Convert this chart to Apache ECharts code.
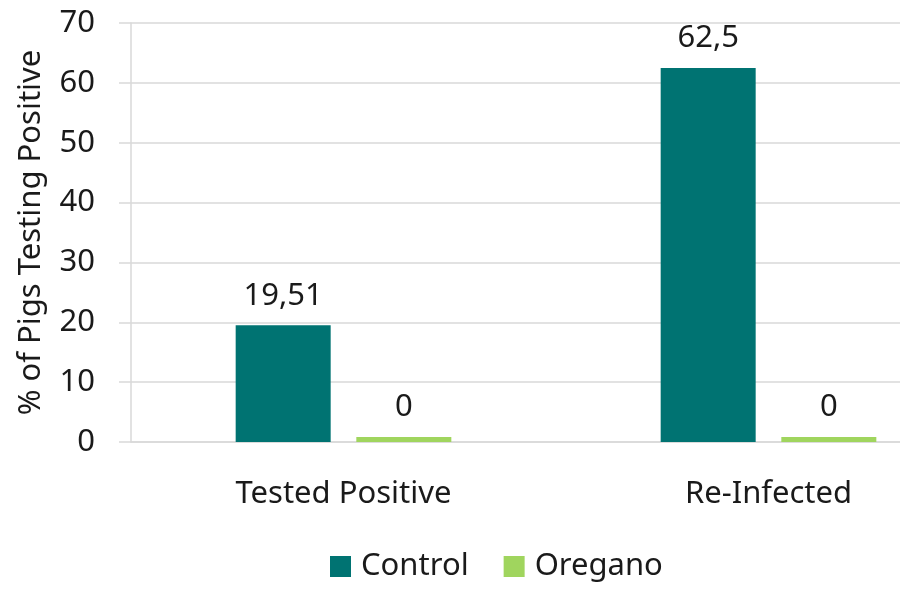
<!DOCTYPE html>
<html><head><meta charset="utf-8">
<script src="https://cdn.jsdelivr.net/npm/echarts@6/dist/echarts.min.js"></script>
<style>html,body{margin:0;padding:0;background:#fff}#c{width:900px;height:600px}</style>
</head><body><div id="c"></div>
<script>
const categories = ['Tested Positive', 'Re-Infected'];
const controlValues = [19.51, 62.5];
const oreganoValues = [0, 0];
const yTicks = [0, 10, 20, 30, 40, 50, 60, 70];

const FONT = '"Noto Sans", "Open Sans", sans-serif';
const FS = 31;
const chart = echarts.init(document.getElementById('c'));
const lbl = {
  show: true, position: 'top', distance: 14, fontSize: FS, color: '#1a1a1a', fontFamily: FONT,
  formatter: p => String(p.value).replace('.', ',')
};
chart.setOption({
  animation: false,
  textStyle: { fontFamily: FONT },
  grid: { left: 131, width: 850, top: 23, bottom: 158, containLabel: false, outerBoundsMode: 'none' },
  legend: {
    bottom: 13, left: 325, itemWidth: 21, itemHeight: 21, itemGap: 35,
    icon: 'rect',
    textStyle: { fontSize: FS, color: '#1a1a1a', fontFamily: FONT, padding: [0, 0, 0, 5] },
    data: ['Control', 'Oregano']
  },
  xAxis: {
    type: 'category', data: categories,
    axisLine: { show: true, lineStyle: { color: '#d9d9d9', width: 1.5 } },
    axisTick: { show: false },
    axisLabel: { fontSize: FS, color: '#1a1a1a', margin: 37, fontFamily: FONT }
  },
  yAxis: {
    type: 'value', min: yTicks[0], max: yTicks[yTicks.length - 1], interval: 10,
    name: '% of Pigs Testing Positive', nameLocation: 'middle', nameGap: 84, nameRotate: 90,
    nameTextStyle: { fontSize: FS, color: '#1a1a1a', fontFamily: FONT },
    axisLine: { show: true, lineStyle: { color: '#d9d9d9', width: 1.5 } },
    axisTick: { show: true, length: 12, lineStyle: { color: '#d9d9d9', width: 1.5 } },
    axisLabel: { fontSize: FS, color: '#1a1a1a', margin: 36, fontFamily: FONT },
    splitLine: { show: true, lineStyle: { color: '#d9d9d9', width: 1.5 } }
  },
  series: [
    { name: 'Control', type: 'bar', data: controlValues, barWidth: 95, barGap: '27%',
      itemStyle: { color: '#007372' }, label: lbl },
    { name: 'Oregano', type: 'bar', data: oreganoValues, barWidth: 95, barMinHeight: 5,
      itemStyle: { color: '#a0d55e' }, label: lbl }
  ]
});
</script></body></html>
